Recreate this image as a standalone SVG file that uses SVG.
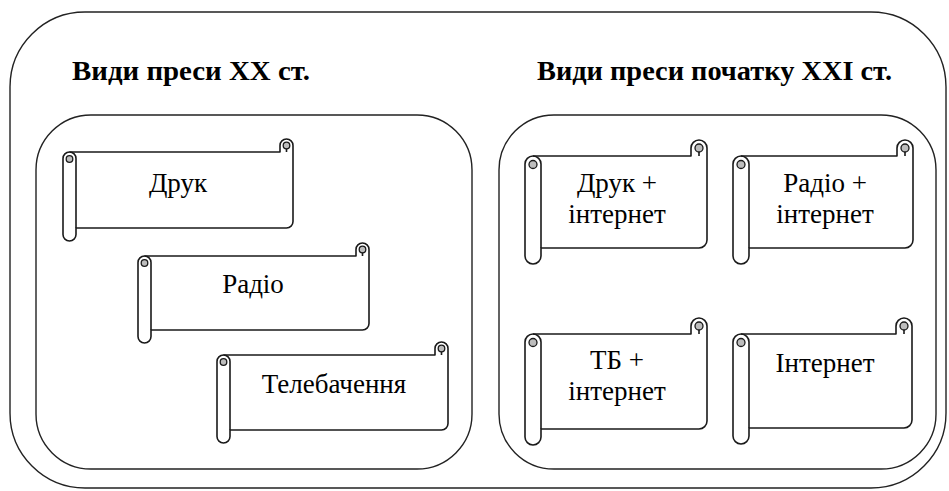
<svg xmlns="http://www.w3.org/2000/svg" width="949" height="491" viewBox="0 0 949 491">
<style>
.box{fill:none;stroke:#222;stroke-width:1.4}
.body{fill:#fff;stroke:#1a1a1a;stroke-width:1.6;stroke-linejoin:round}
.ln{fill:none;stroke:#1a1a1a;stroke-width:1.6}
.curl{fill:#bdbdbd;stroke:#1a1a1a;stroke-width:1.3}
text{font-family:"Liberation Serif","Times New Roman",Times,"DejaVu Serif",serif}
.h{font-weight:bold;font-size:28px;fill:#000}
.t{font-size:27px;fill:#000;text-anchor:middle}
</style>
<rect width="949" height="491" fill="#fff"/>
<g id="outer"><rect class="box" x="10" y="12" width="936" height="476" rx="75" ry="75"/></g>
<g id="heading-left"><text class="h" x="72" y="80" textLength="238" lengthAdjust="spacingAndGlyphs" font-family="Liberation Serif, serif">Види преси XX ст.</text></g>
<g id="heading-right"><text class="h" x="537" y="80" textLength="355" lengthAdjust="spacingAndGlyphs" font-family="Liberation Serif, serif">Види преси початку XXI ст.</text></g>
<g id="group-left"><rect class="box" x="36" y="115" width="436" height="354" rx="55" ry="55"/></g>
<g id="group-right"><rect class="box" x="499" y="115" width="437" height="354" rx="55" ry="55"/></g>

<g id="s-druk">
<path class="body" d="M63,158.5 A6.5,6.5 0 0 1 69.5,152 L280,152 L280,145.5 A6.5,6.5 0 0 1 293,145.5 L293,221.5 A6.5,6.5 0 0 1 286.5,228 L76,228 L76,234.5 A6.5,6.5 0 0 1 63,234.5 Z"/>
<path class="ln" d="M69.5,152 A6.5,6.5 0 0 1 76,158.5 L76,228 M286.5,152 L286.5,145.5"/>
<circle class="curl" cx="69.5" cy="159" r="3.3"/>
<circle class="curl" cx="286.5" cy="145.5" r="3.3"/>
<text class="t" x="178" y="192">Друк</text>
</g>
<g id="s-radio">
<path class="body" d="M138,262.5 A6.5,6.5 0 0 1 144.5,256 L356,256 L356,249.5 A6.5,6.5 0 0 1 369,249.5 L369,323.5 A6.5,6.5 0 0 1 362.5,330 L151,330 L151,336.5 A6.5,6.5 0 0 1 138,336.5 Z"/>
<path class="ln" d="M144.5,256 A6.5,6.5 0 0 1 151,262.5 L151,330 M362.5,256 L362.5,249.5"/>
<circle class="curl" cx="144.5" cy="263" r="3.3"/>
<circle class="curl" cx="362.5" cy="249.5" r="3.3"/>
<text class="t" x="253" y="293">Радіо</text>
</g>
<g id="s-tv">
<path class="body" d="M217,361.5 A6.5,6.5 0 0 1 223.5,355 L435,355 L435,348.5 A6.5,6.5 0 0 1 448,348.5 L448,423.5 A6.5,6.5 0 0 1 441.5,430 L230,430 L230,436.5 A6.5,6.5 0 0 1 217,436.5 Z"/>
<path class="ln" d="M223.5,355 A6.5,6.5 0 0 1 230,361.5 L230,430 M441.5,355 L441.5,348.5"/>
<circle class="curl" cx="223.5" cy="362" r="3.3"/>
<circle class="curl" cx="441.5" cy="348.5" r="3.3"/>
<text class="t" x="334" y="393">Телебачення</text>
</g>

<g id="s-druk-int">
<path class="body" d="M525,164 A8,8 0 0 1 533,156 L691,156 L691,148 A8,8 0 0 1 707,148 L707,240 A8,8 0 0 1 699,248 L541,248 L541,256 A8,8 0 0 1 525,256 Z"/>
<path class="ln" d="M533,156 A8,8 0 0 1 541,164 L541,248 M699,156 L699,148"/>
<circle class="curl" cx="533" cy="164.5" r="4"/>
<circle class="curl" cx="699" cy="148" r="4"/>
<text class="t" x="617" y="192">Друк +</text>
<text class="t" x="617" y="223">інтернет</text>
</g>
<g id="s-radio-int">
<path class="body" d="M733,164 A8,8 0 0 1 741,156 L897,156 L897,148 A8,8 0 0 1 913,148 L913,240 A8,8 0 0 1 905,248 L749,248 L749,256 A8,8 0 0 1 733,256 Z"/>
<path class="ln" d="M741,156 A8,8 0 0 1 749,164 L749,248 M905,156 L905,148"/>
<circle class="curl" cx="741" cy="164.5" r="4"/>
<circle class="curl" cx="905" cy="148" r="4"/>
<text class="t" x="825" y="192">Радіо +</text>
<text class="t" x="825" y="223">інтернет</text>
</g>
<g id="s-tv-int">
<path class="body" d="M525,342 A8,8 0 0 1 533,334 L691,334 L691,326 A8,8 0 0 1 707,326 L707,421 A8,8 0 0 1 699,429 L541,429 L541,437 A8,8 0 0 1 525,437 Z"/>
<path class="ln" d="M533,334 A8,8 0 0 1 541,342 L541,429 M699,334 L699,326"/>
<circle class="curl" cx="533" cy="342.5" r="4"/>
<circle class="curl" cx="699" cy="326" r="4"/>
<text class="t" x="617" y="369">ТБ +</text>
<text class="t" x="617" y="400">інтернет</text>
</g>
<g id="s-int">
<path class="body" d="M733,342 A8,8 0 0 1 741,334 L896,334 L896,326 A8,8 0 0 1 912,326 L912,420 A8,8 0 0 1 904,428 L749,428 L749,436 A8,8 0 0 1 733,436 Z"/>
<path class="ln" d="M741,334 A8,8 0 0 1 749,342 L749,428 M904,334 L904,326"/>
<circle class="curl" cx="741" cy="342.5" r="4"/>
<circle class="curl" cx="904" cy="326" r="4"/>
<text class="t" x="825" y="372">Інтернет</text>
</g>
<g id="connectors"></g>
</svg>
